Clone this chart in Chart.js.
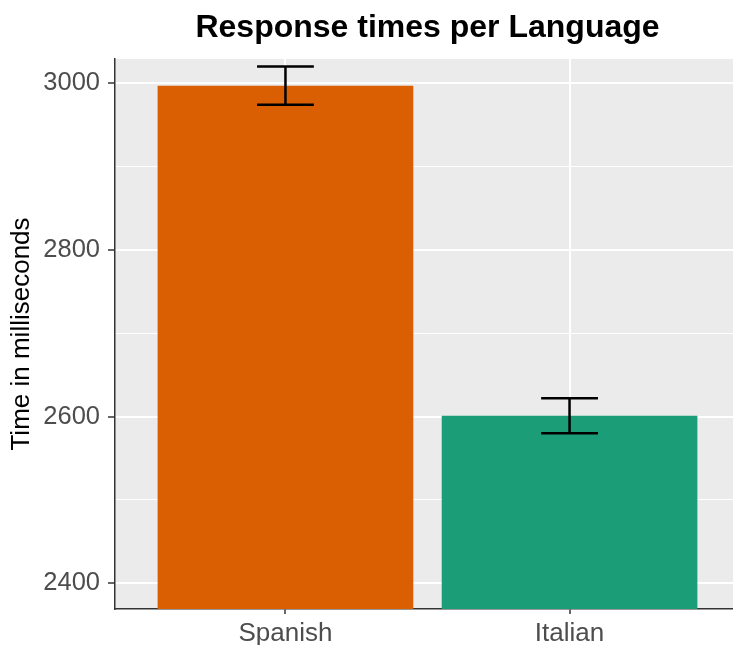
<!DOCTYPE html>
<html>
<head>
<meta charset="utf-8">
<script src="https://cdn.jsdelivr.net/npm/chart.js@4"></script>
<style>
  html, body { margin: 0; padding: 0; background: #fff; overflow: hidden; }
  #wrap { width: 733px; height: 645px; overflow: hidden; }
</style>
</head>
<body>
<div id="wrap"><canvas id="monGraphique" width="740" height="645"></canvas></div>
<script>
// donnees
const languages = ['Spanish', 'Italian'];
const meanTimes = [2997, 2601];
const stdErrors = [23, 21];
const barColors = ['#D95F02', '#1B9E77'];
const yTicks = [2400, 2500, 2600, 2700, 2800, 2900, 3000];

const chartTitle = 'Response times per Language';

// fond gris du panneau (style ggplot)
const panelBg = {
    id: 'panelBg',
    beforeDraw(chart) {
        const { ctx, chartArea: a } = chart;
        ctx.save();
        ctx.fillStyle = '#EBEBEB';
        ctx.fillRect(a.left, a.top, a.right - a.left, a.bottom - a.top);
        ctx.restore();
    }
};

// barres d'erreur
const errorBars = {
    id: 'errorBars',
    afterDatasetsDraw(chart) {
        const { ctx } = chart;
        const meta = chart.getDatasetMeta(0);
        const y = chart.scales.y;
        ctx.save();
        ctx.strokeStyle = '#000';
        ctx.lineWidth = 2.5;
        meta.data.forEach((bar, i) => {
            const half = bar.width * 0.2 / 0.9 / 2;
            const yTop = y.getPixelForValue(meanTimes[i] + stdErrors[i]);
            const yBot = y.getPixelForValue(meanTimes[i] - stdErrors[i]);
            ctx.beginPath();
            ctx.moveTo(bar.x - half, yTop); ctx.lineTo(bar.x + half, yTop);
            ctx.moveTo(bar.x, yTop); ctx.lineTo(bar.x, yBot);
            ctx.moveTo(bar.x - half, yBot); ctx.lineTo(bar.x + half, yBot);
            ctx.stroke();
        });
        ctx.restore();
    }
};

// titre centre sur le panneau
const panelTitle = {
    id: 'panelTitle',
    afterDraw(chart) {
        const { ctx, chartArea: a } = chart;
        ctx.save();
        ctx.fillStyle = '#000';
        ctx.font = 'bold 32px "Liberation Sans", Arial, sans-serif';
        ctx.textAlign = 'center';
        ctx.textBaseline = 'alphabetic';
        ctx.fillText(chartTitle, (a.left + 740) / 2, 37);
        ctx.restore();
    }
};

const ctx = document.getElementById('monGraphique').getContext('2d');

new Chart(ctx, {
    type: 'bar',
    data: {
        datasets: [{
            data: meanTimes.map((v, i) => ({ x: i + 1, y: v })),
            backgroundColor: barColors,
            borderWidth: 0,
            barPercentage: 0.9,
            categoryPercentage: 1
        }]
    },
    options: {
        responsive: false,
        animation: false,
        layout: { padding: { top: 59, right: 0, left: 0, bottom: 0 } },
        plugins: {
            legend: { display: false },
            tooltip: { enabled: false },
            title: { display: false }
        },
        scales: {
            x: {
                type: 'linear',
                offset: false,
                min: 0.4,
                max: 2.6,
                afterBuildTicks: s => { s.ticks = languages.map((_, i) => ({ value: i + 1 })); },
                afterFit: s => { s.height = 36; },
                ticks: {
                    callback: v => languages[v - 1] || '',
                    color: '#4D4D4D',
                    font: { family: '"Liberation Sans", Arial, sans-serif', size: 26 },
                    padding: 4,
                    maxRotation: 0,
                    autoSkip: false
                },
                grid: {
                    offset: false,
                    color: '#FFFFFF',
                    lineWidth: 2,
                    drawTicks: true,
                    tickLength: 5,
                    tickColor: '#333333',
                    tickWidth: 1.5
                },
                border: { display: true, color: '#333333', width: 1.5 }
            },
            y: {
                min: 2369,
                max: 3029,
                afterBuildTicks: s => { s.ticks = yTicks.map(v => ({ value: v })); },
                afterFit: s => { s.width = 115; },
                ticks: {
                    callback: v => (v % 200 === 0 ? v : ''),
                    color: '#4D4D4D',
                    font: { family: '"Liberation Sans", Arial, sans-serif', size: 25.5 },
                    padding: 8
                },
                grid: {
                    color: '#FFFFFF',
                    lineWidth: c => (c.tick && c.tick.value % 200 === 0 ? 2 : 1),
                    tickLength: 7,
                    tickColor: c => (c.tick && c.tick.value % 200 === 0 ? '#333333' : 'rgba(0,0,0,0)'),
                    tickWidth: 1.5
                },
                border: { display: true, color: '#333333', width: 1.5 },
                title: {
                    display: true,
                    text: 'Time in milliseconds',
                    color: '#000',
                    font: { family: '"Liberation Sans", Arial, sans-serif', size: 26 },
                    padding: { top: 6, bottom: 0 }
                }
            }
        }
    },
    plugins: [panelBg, errorBars, panelTitle]
});
</script>
</body>
</html>
